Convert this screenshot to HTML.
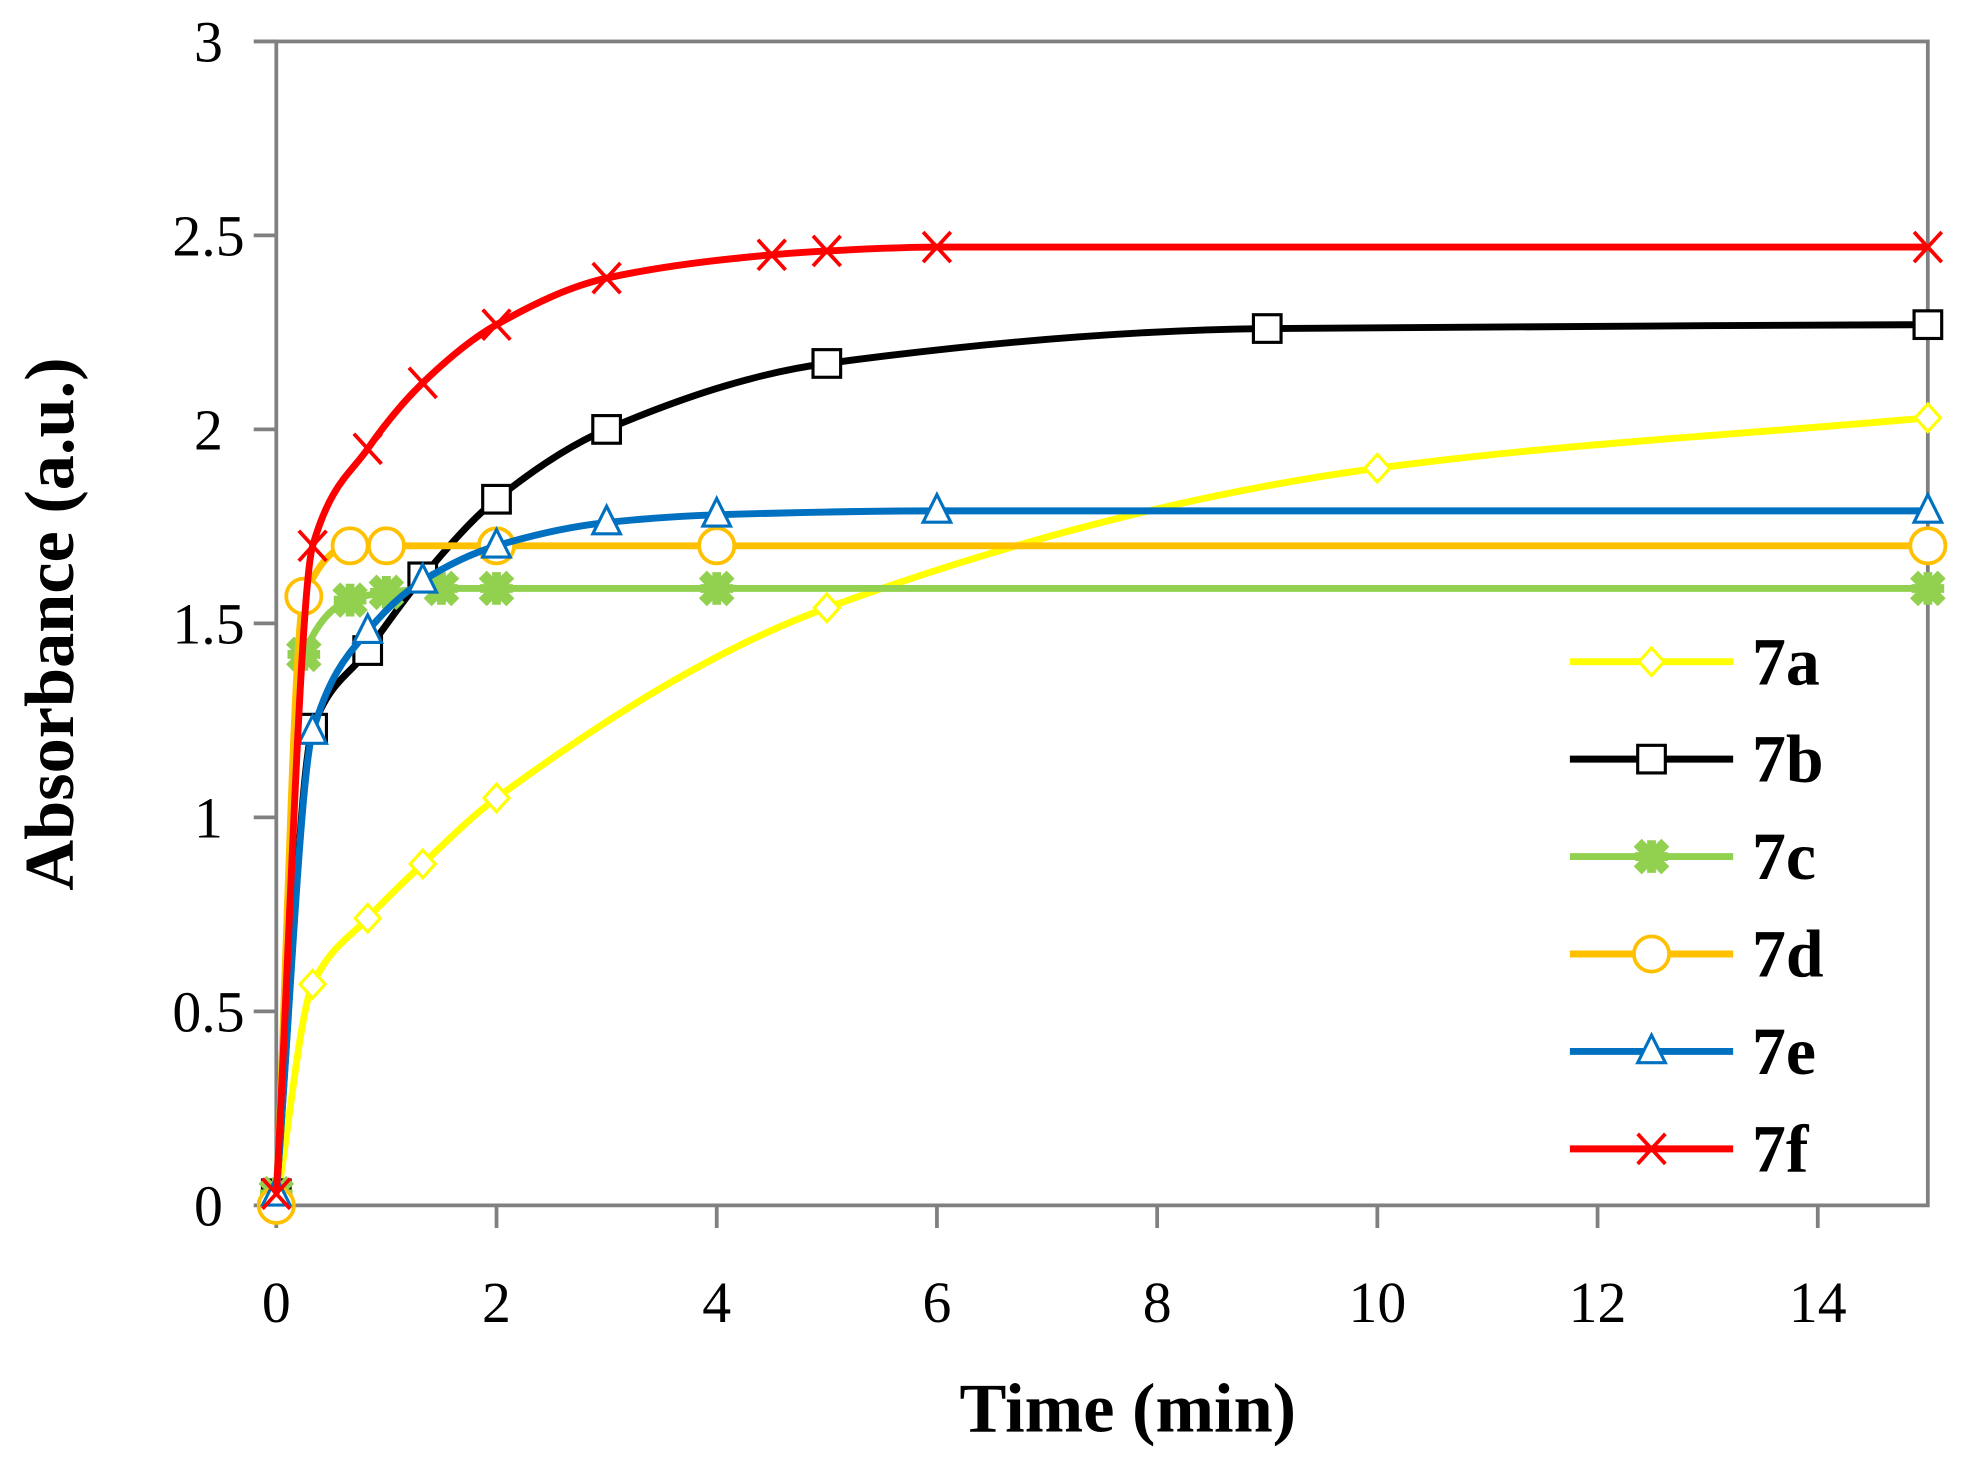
<!DOCTYPE html>
<html><head><meta charset="utf-8"><style>
html,body{margin:0;padding:0;background:#fff;}
svg{display:block;}
text{font-family:"Liberation Serif",serif;}
</style></head><body>
<svg id="c" width="1968" height="1459" viewBox="0 0 1567 1162" preserveAspectRatio="none" xmlns="http://www.w3.org/2000/svg">
<rect width="1567" height="1162" fill="#fff"/>
<g id="axes"></g>
<g id="series"></g>
<text x="898" y="1140" font-size="56" font-weight="bold" text-anchor="middle">Time (min)</text>
<text transform="translate(58,497) rotate(-90)" font-size="56" font-weight="bold" text-anchor="middle">Absorbance (a.u.)</text>
</svg>
<script>
const NS="http://www.w3.org/2000/svg";
const X=t=>220+87.67*t, Y=v=>960-309*v;
const ax=document.getElementById('axes'), se=document.getElementById('series');
function el(p,tag,a,txt){const e=document.createElementNS(NS,tag);for(const k in a)e.setAttribute(k,a[k]);if(txt!=null)e.textContent=txt;p.appendChild(e);return e;}
el(ax,'rect',{x:220,y:33,width:1315,height:927,fill:'none',stroke:'#808080','stroke-width':3});
for(let i=0;i<=6;i++){const v=i*0.5,y=Y(v);
 el(ax,'line',{x1:202,x2:220,y1:y,y2:y,stroke:'#808080','stroke-width':3});
 el(ax,'text',{x:166,y:y+16,'font-size':46,'text-anchor':'middle'},String(v));}
for(let i=0;i<=14;i+=2){const x=X(i);
 el(ax,'line',{x1:x,x2:x,y1:960,y2:978,stroke:'#808080','stroke-width':3});
 el(ax,'text',{x:x,y:1053,'font-size':46,'text-anchor':'middle'},String(i));}
function path(pts){const P=pts.map(p=>[X(p[0]),Y(p[1])]);const n=P.length;
 const d=[],m=[];for(let i=0;i<n-1;i++)d.push((P[i+1][1]-P[i][1])/(P[i+1][0]-P[i][0]));
 m[0]=d[0];m[n-1]=d[n-2];
 for(let i=1;i<n-1;i++){if(d[i-1]*d[i]<=0)m[i]=0;else{const h0=P[i][0]-P[i-1][0],h1=P[i+1][0]-P[i][0];const w1=2*h1+h0,w2=h1+2*h0;m[i]=(w1+w2)/(w1/d[i-1]+w2/d[i]);}}
 let s='M'+P[0][0]+','+P[0][1];
 for(let i=0;i<n-1;i++){const h=(P[i+1][0]-P[i][0])/3;
  s+=` C${P[i][0]+h},${P[i][1]+m[i]*h} ${P[i+1][0]-h},${P[i+1][1]-m[i+1]*h} ${P[i+1][0]},${P[i+1][1]}`;}
 return s;}
function marker(g,type,x,y,col){
 if(type=='d')el(g,'polygon',{points:`${x},${y-11} ${x+10},${y} ${x},${y+11} ${x-10},${y}`,fill:'#fff',stroke:col,'stroke-width':2.5});
 if(type=='s')el(g,'rect',{x:x-11,y:y-11,width:22,height:22,fill:'#fff',stroke:'#000','stroke-width':2.5});
 if(type=='c'){el(g,'path',{d:`M${x-11},${y-11}L${x+11},${y+11}M${x+11},${y-11}L${x-11},${y+11}`,stroke:col,'stroke-width':9});el(g,'path',{d:`M${x-13},${y}L${x+13},${y}M${x},${y-13}L${x},${y+13}`,stroke:col,'stroke-width':7});}
 if(type=='o')el(g,'circle',{cx:x,cy:y,r:14,fill:'#fff',stroke:col,'stroke-width':3});
 if(type=='t')el(g,'polygon',{points:`${x},${y-13} ${x+11},${y+9} ${x-11},${y+9}`,fill:'#fff',stroke:'#0070c0','stroke-width':2.5});
 if(type=='x')el(g,'path',{d:`M${x-11},${y-12}L${x+11},${y+12}M${x+11},${y-12}L${x-11},${y+12}`,stroke:col,'stroke-width':3});
}
const S=[
 ['7a','#ffff00','d',[[0,0],[0.33,0.57],[0.83,0.74],[1.33,0.88],[2,1.05],[5,1.54],[10,1.9],[15,2.03]]],
 ['7b','#000000','s',[[0,0.03],[0.33,1.23],[0.83,1.43],[1.33,1.62],[2,1.82],[3,2.0],[5,2.17],[9,2.26],[15,2.27]]],
 ['7c','#92d050','c',[[0,0.03],[0.25,1.42],[0.67,1.56],[1,1.58],[1.5,1.59],[2,1.59],[4,1.59],[15,1.59]]],
 ['7d','#ffc000','o',[[0,0],[0.25,1.57],[0.67,1.7],[1,1.7],[2,1.7],[4,1.7],[15,1.7]]],
 ['7e','#0070c0','t',[[0,0.03],[0.33,1.22],[0.83,1.48],[1.33,1.61],[2,1.7],[3,1.76],[4,1.78],[6,1.79],[15,1.79]]],
 ['7f','#ff0000','x',[[0,0.03],[0.33,1.7],[0.83,1.95],[1.33,2.12],[2,2.27],[3,2.39],[4.5,2.45],[5,2.46],[6,2.47],[15,2.47]]]
];
S.forEach((s,i)=>{const g=el(se,'g',{});
 el(g,'path',{d:path(s[3]),fill:'none',stroke:s[1],'stroke-width':5.5,'stroke-linejoin':'round'});
 s[3].forEach(p=>marker(g,s[2],X(p[0]),Y(p[1]),s[1]));
 const ly=527+i*77.6;
 el(g,'line',{x1:1250,x2:1380,y1:ly,y2:ly,stroke:s[1],'stroke-width':5.5});
 marker(g,s[2],1315,ly,s[1]);
 el(g,'text',{x:1395,y:ly+18,'font-size':54,'font-weight':'bold'},s[0]);
});
</script>
</body></html>
